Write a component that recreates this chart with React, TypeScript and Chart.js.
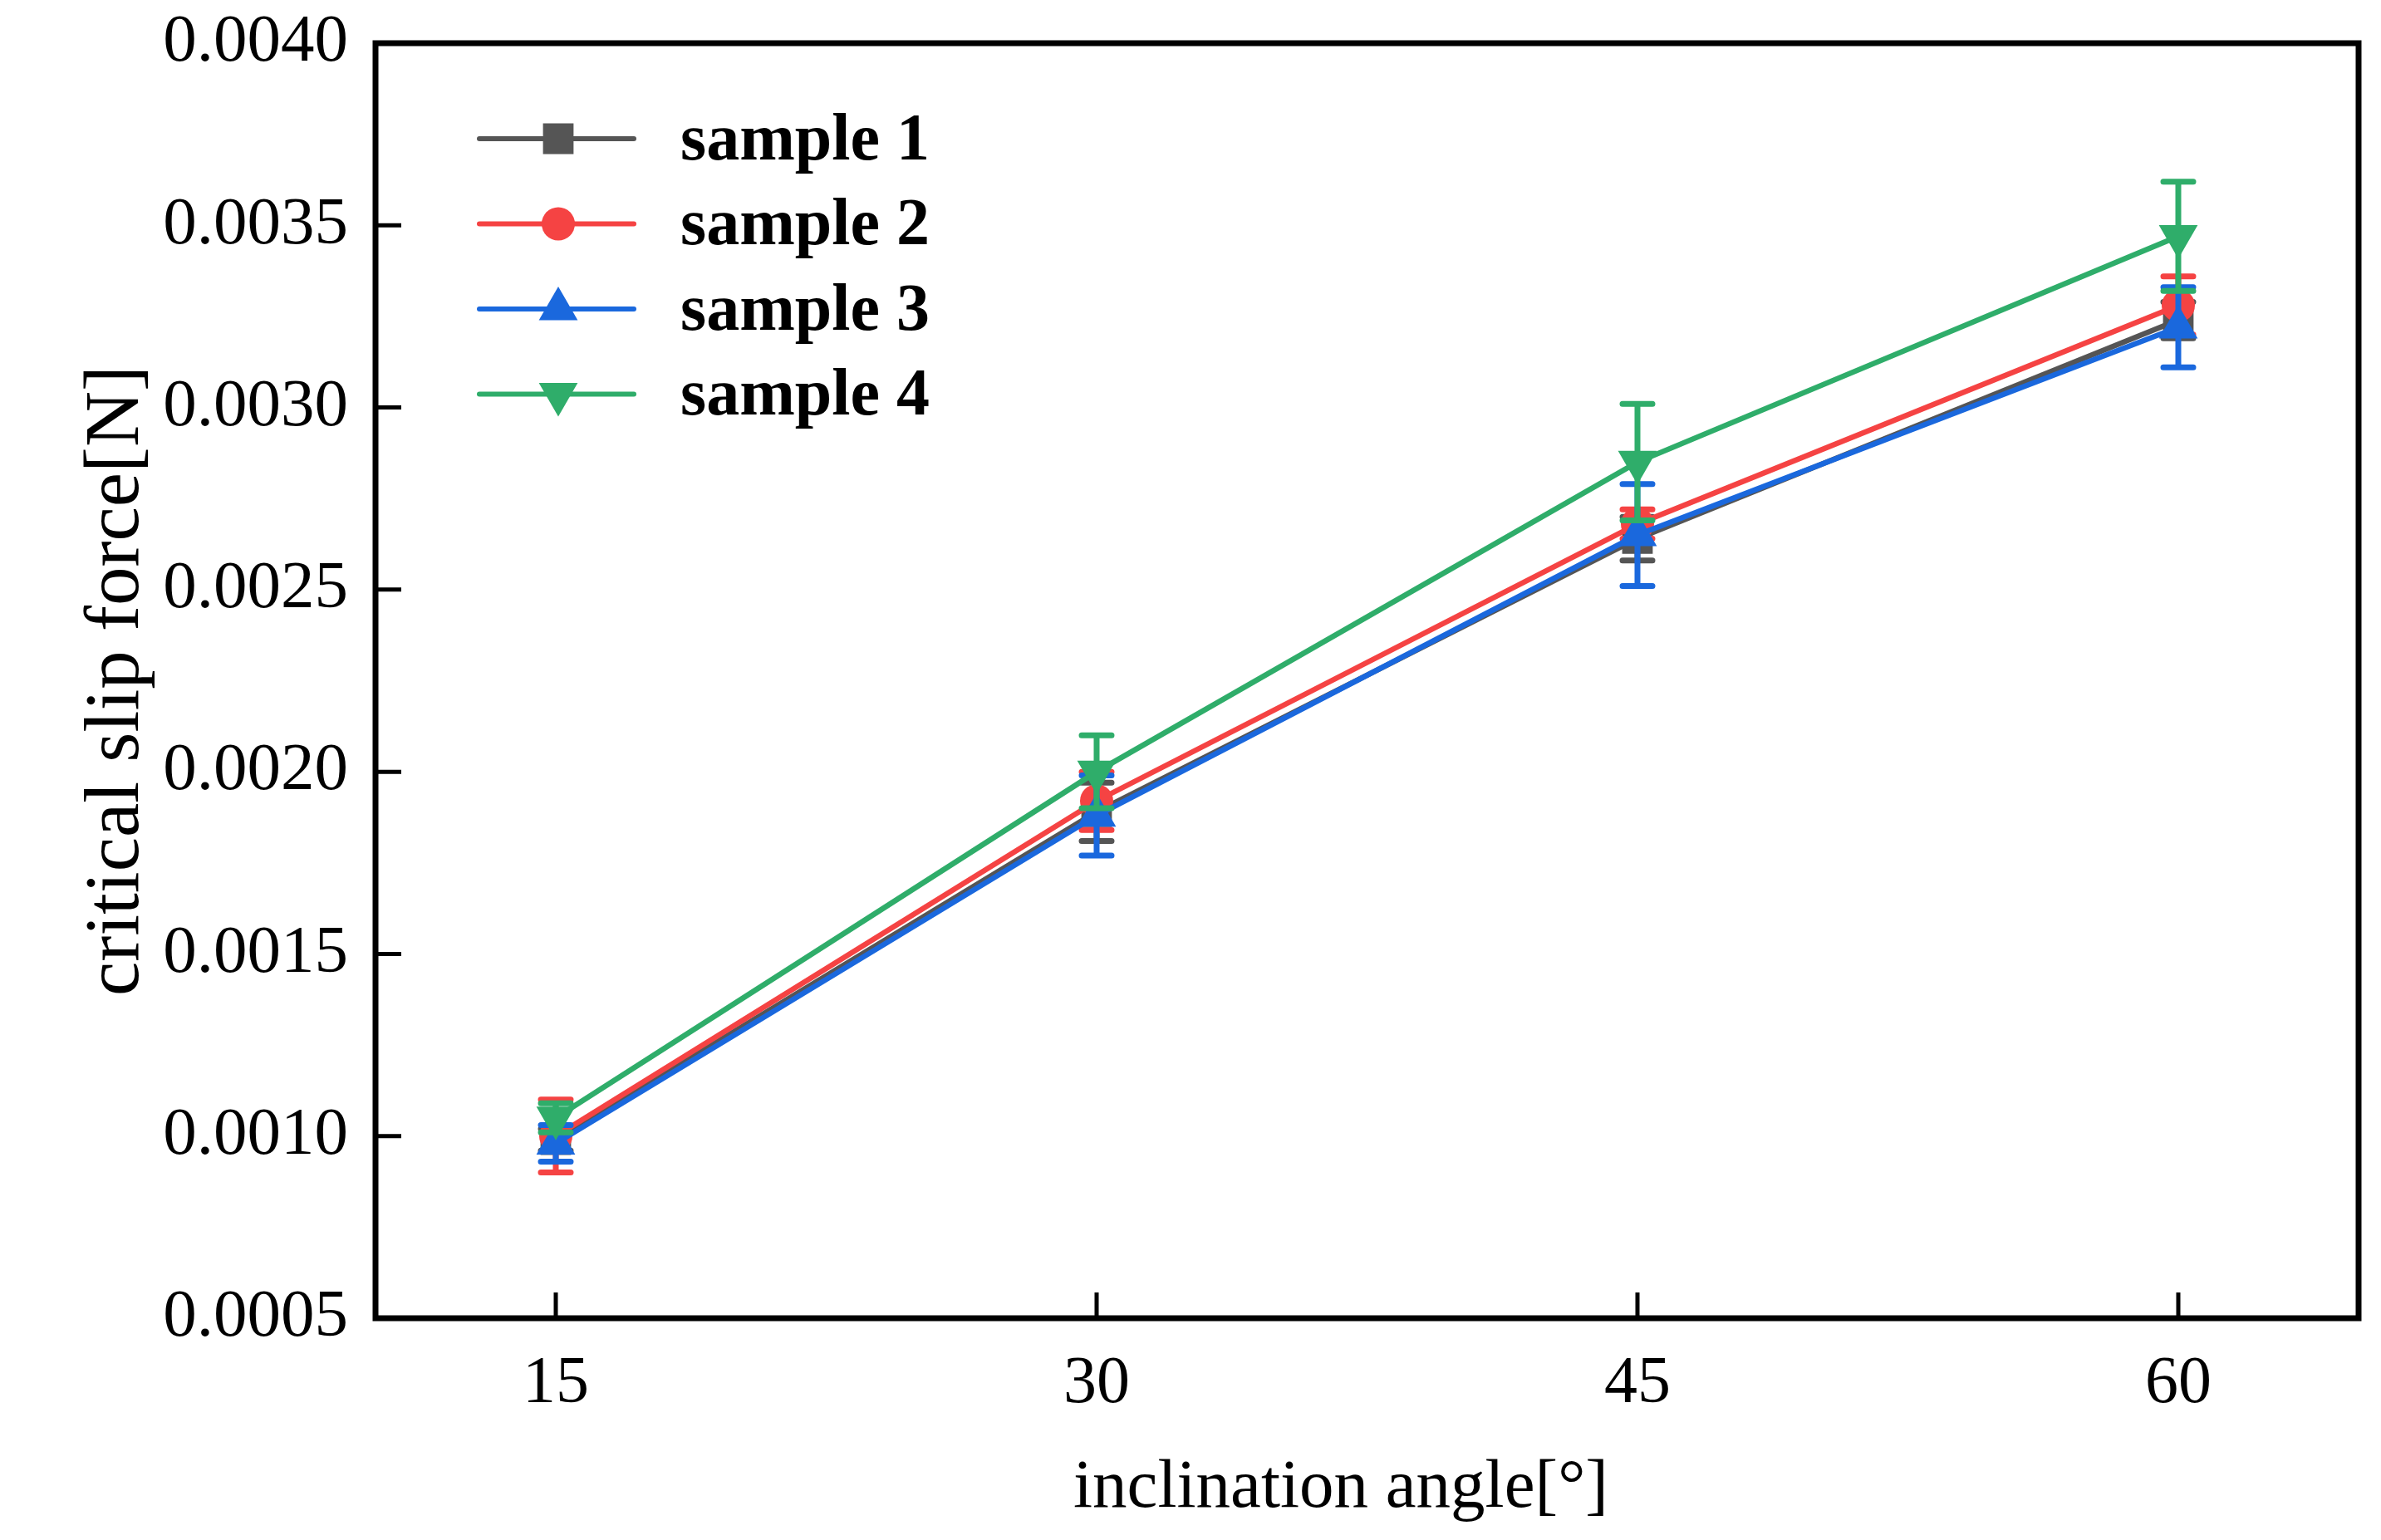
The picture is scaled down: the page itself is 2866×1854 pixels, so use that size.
import { useEffect, useRef } from "react";
import { Chart, registerables } from "chart.js";
import { drawPoint } from "chart.js/helpers";

Chart.register(...registerables);

// inclination angles on the x axis
const angles = [15, 30, 45, 60];

const sampleLabels = ["sample 1", "sample 2", "sample 3", "sample 4"];
const sampleColors = ["#555555", "#f54343", "#1a68dd", "#2fad6a"];

// critical slip force [N] and error bars
const sample1 = [0.00099, 0.00189, 0.00264, 0.00324];
const sample1Err = [0.00003, 0.00008, 0.00006, 0.00005];
const sample2 = [0.001, 0.00192, 0.00268, 0.00328];
const sample2Err = [0.0001, 0.00008, 0.00004, 0.00008];
const sample3 = [0.00098, 0.00188, 0.00265, 0.00322];
const sample3Err = [0.00005, 0.00011, 0.00014, 0.00011];
const sample4 = [0.00105, 0.002, 0.00285, 0.00347];
const sample4Err = [0.00004, 0.0001, 0.00016, 0.00015];

const seriesValues = [sample1, sample2, sample3, sample4];
const seriesErrors = [sample1Err, sample2Err, sample3Err, sample4Err];
const pointStyles = ["rect", "circle", "triangle", "triangle"];
const pointRotations = [0, 0, 0, 180];
const pointRadii = [26, 20, 27, 27];

const xTitle = "inclination angle[°]";
const FONT = "'Liberation Serif', 'Times New Roman', serif";

const errorBars = {
  id: "errorBars",
  beforeDatasetDraw(chart: any, args: any) {
    const ds = chart.data.datasets[args.index];
    const y = chart.scales.y;
    const ctx = chart.ctx;
    ctx.save();
    ctx.strokeStyle = ds.borderColor;
    ctx.lineWidth = 7;
    ctx.lineCap = "round";
    args.meta.data.forEach((pt: any, i: number) => {
      const v = ds.data[i].y;
      const e = ds.errors[i];
      const top = y.getPixelForValue(v + e);
      const bot = y.getPixelForValue(v - e);
      ctx.beginPath();
      ctx.moveTo(pt.x, top);
      ctx.lineTo(pt.x, bot);
      ctx.moveTo(pt.x - 18, top);
      ctx.lineTo(pt.x + 18, top);
      ctx.moveTo(pt.x - 18, bot);
      ctx.lineTo(pt.x + 18, bot);
      ctx.stroke();
    });
    ctx.restore();
  },
};

const frameAndLegend = {
  id: "frameAndLegend",
  afterDraw(chart: any) {
    const { ctx, chartArea: a, scales } = chart;
    ctx.save();
    // inside tick marks
    ctx.strokeStyle = "#000";
    ctx.lineWidth = 5;
    ctx.beginPath();
    scales.y.ticks.forEach((t: any) => {
      const py = scales.y.getPixelForValue(t.value);
      ctx.moveTo(a.left, py);
      ctx.lineTo(a.left + 31, py);
    });
    scales.x.ticks.forEach((t: any) => {
      const px = scales.x.getPixelForValue(t.value);
      ctx.moveTo(px, a.bottom);
      ctx.lineTo(px, a.bottom - 31);
    });
    ctx.stroke();
    // frame
    ctx.lineWidth = 7;
    ctx.strokeRect(a.left, a.top, a.right - a.left, a.bottom - a.top);

    // x axis title
    ctx.fillStyle = "#000";
    ctx.font = `83px ${FONT}`;
    ctx.textAlign = "center";
    ctx.textBaseline = "middle";
    ctx.fillText(xTitle, 1614, 1792);

    // legend
    chart.data.datasets.forEach((ds: any, i: number) => {
      const yy = a.top + 115 + i * 102.5;
      ctx.strokeStyle = ds.borderColor;
      ctx.lineWidth = 6;
      ctx.lineCap = "round";
      ctx.beginPath();
      ctx.moveTo(a.left + 125, yy);
      ctx.lineTo(a.left + 311, yy);
      ctx.stroke();
      ctx.fillStyle = ds.borderColor;
      drawPoint(
        ctx,
        {
          pointStyle: ds.pointStyle,
          rotation: ds.pointRotation,
          radius: ds.pointRadius,
          borderWidth: 0,
        } as any,
        a.left + 220,
        yy
      );
      ctx.fillStyle = "#000";
      ctx.font = `bold 80px ${FONT}`;
      ctx.textAlign = "left";
      ctx.textBaseline = "middle";
      ctx.fillText(ds.label, a.left + 367, yy + 4);
    });
    ctx.restore();
  },
};

export default function App() {
  const canvasRef = useRef<HTMLCanvasElement>(null);
  const chartRef = useRef<Chart | null>(null);

  useEffect(() => {
    if (!canvasRef.current) return;
    document.body.style.margin = "0";

    if (chartRef.current) chartRef.current.destroy();

    chartRef.current = new Chart(canvasRef.current, {
      type: "line",
      data: {
        datasets: sampleLabels.map((label, i) => ({
          label,
          data: angles.map((x, j) => ({ x, y: seriesValues[i][j] })),
          errors: seriesErrors[i],
          borderColor: sampleColors[i],
          backgroundColor: sampleColors[i],
          borderWidth: 6.5,
          pointStyle: pointStyles[i],
          pointRotation: pointRotations[i],
          pointRadius: pointRadii[i],
          pointBorderWidth: 0,
          tension: 0,
          order: sampleLabels.length - i,
        })) as any,
      },
      plugins: [errorBars, frameAndLegend],
      options: {
        animation: false,
        responsive: true,
        maintainAspectRatio: false,
        devicePixelRatio: 1,
        layout: { padding: { left: 0, top: 52, right: 13, bottom: 0 } },
        plugins: {
          legend: { display: false },
          tooltip: { enabled: false },
        },
        scales: {
          x: {
            type: "linear",
            min: 10,
            max: 65,
            afterBuildTicks: (scale: any) => {
              scale.ticks = angles.map((v) => ({ value: v }));
            },
            afterFit: (scale: any) => {
              scale.height = 1854 - 1587;
              scale.paddingLeft = 0;
              scale.paddingRight = 0;
            },
            grid: { display: false, drawTicks: false },
            border: { display: false },
            ticks: {
              padding: 32,
              color: "#000",
              font: { family: FONT, size: 80 },
            },
          },
          y: {
            min: 0.0005,
            max: 0.004,
            afterFit: (scale: any) => {
              scale.width = 452;
              scale.paddingTop = 0;
              scale.paddingBottom = 0;
            },
            grid: { display: false, drawTicks: false },
            border: { display: false },
            ticks: {
              stepSize: 0.0005,
              padding: 33,
              color: "#000",
              font: { family: FONT, size: 81 },
              callback: (v: any) => Number(v).toFixed(4),
            },
            title: {
              display: true,
              text: "critical slip force[N]",
              color: "#000",
              font: { family: FONT, size: 93 },
              padding: { top: 86, bottom: 0 },
            },
          },
        },
      } as any,
    });

    return () => {
      if (chartRef.current) {
        chartRef.current.destroy();
        chartRef.current = null;
      }
    };
  }, []);

  return (
    <div style={{ position: "absolute", left: 0, top: 0, width: 2866, height: 1854, background: "#fff" }}>
      <canvas ref={canvasRef}></canvas>
    </div>
  );
}
